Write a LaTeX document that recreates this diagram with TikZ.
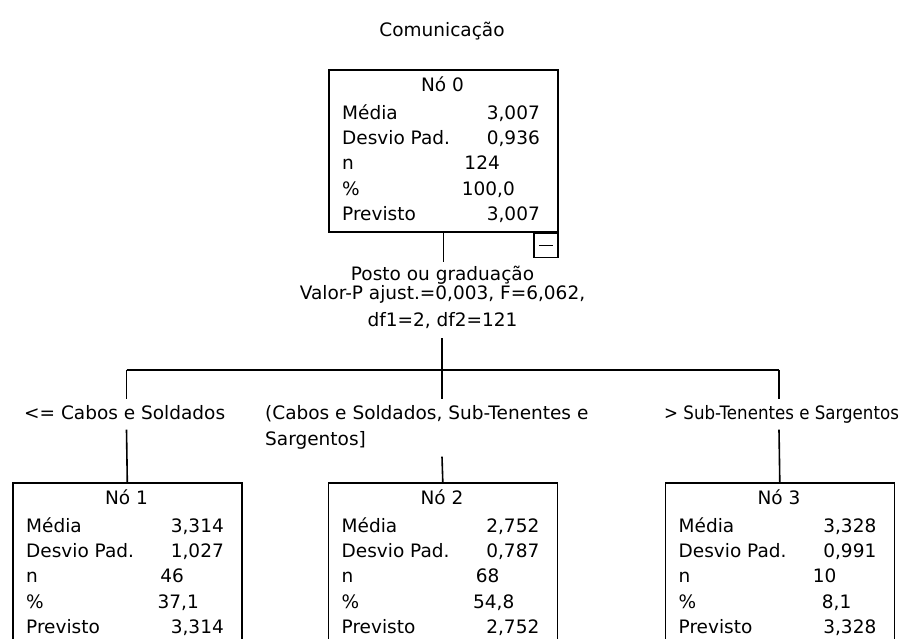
\documentclass[tikz,border=0pt]{standalone}
\usepackage{fontspec}
\setmainfont{DejaVu Sans}
\newcommand\spssnode[9]{%
  \node[box] (#1) at (#2,#3) {};
  \node[anchor=base] (#1-title) at ([shift={(114.5,22.7)}]#1.north west) {#4};
  \node[anchor=base west] (#1-l1) at ([shift={(14,50.2)}]#1.north west) {Média};
  \node[anchor=base east] (#1-v1) at ([shift={(212,50.2)}]#1.north west) {#5};
  \node[anchor=base west] (#1-l2) at ([shift={(14,75.7)}]#1.north west) {Desvio Pad.};
  \node[anchor=base east] (#1-v2) at ([shift={(212,75.7)}]#1.north west) {#6};
  \node[anchor=base west] (#1-l3) at ([shift={(14,100.7)}]#1.north west) {n};
  \node[anchor=base east] (#1-v3) at ([shift={(172,100.7)}]#1.north west) {#7};
  \node[anchor=base west] (#1-l4) at ([shift={(14,126.2)}]#1.north west) {\%};
  \node[anchor=base east] (#1-v4) at ([shift={(187,126.2)}]#1.north west) {#8};
  \node[anchor=base west] (#1-l5) at ([shift={(14,151.7)}]#1.north west) {Previsto};
  \node[anchor=base east] (#1-v5) at ([shift={(212,151.7)}]#1.north west) {#9};
}
\begin{document}
\begin{tikzpicture}[x=1pt,y=-1pt,
  every node/.style={font=\fontsize{18.5}{22}\selectfont, inner sep=0pt, text height=13.5pt, text depth=4pt},
  box/.style={draw, line width=1.6pt, minimum width=229pt, minimum height=162pt, anchor=north west},
  conn/.style={line width=1.6pt},
  lbl/.style={inner ysep=6.5pt, inner xsep=0pt}
]
\useasboundingbox (0,0) rectangle (914,639);
\clip (0,0) rectangle (914,639);

\node[anchor=base] (title) at (442,37) {Comunicação};

\spssnode{n0}{328}{69}{Nó 0}{3,007}{0,936}{124}{100,0}{3,007}
\node[draw, line width=1.6pt, minimum width=24pt, minimum height=24pt, text height=0pt, text depth=0pt, anchor=north east] (mb) at (n0.south east) {};
\draw[line width=1.6pt] ([xshift=-7pt]mb.center) -- ([xshift=7pt]mb.center);

\node[lbl, anchor=base, inner ysep=5pt] (s0a) at (442.5,280.5) {Posto ou graduação};
\node[lbl, anchor=base, inner ysep=5pt] (s0b) at (442.5,300) {Valor-P ajust.=0,003, F=6,062,};
\node[lbl, anchor=base, inner ysep=7pt] (s0c) at (442.5,327) {df1=2, df2=121};

\spssnode{n1}{12}{482}{Nó 1}{3,314}{1,027}{46}{37,1}{3,314}
\spssnode{n2}{327.5}{482}{Nó 2}{2,752}{0,787}{68}{54,8}{2,752}
\spssnode{n3}{664.5}{482}{Nó 3}{3,328}{0,991}{10}{8,1}{3,328}

\node[lbl, anchor=base west] (l1) at (24,419) {<= Cabos e Soldados};
\node[lbl, anchor=base west] (l2) at (265,419) {(Cabos e Soldados, Sub-Tenentes e};
\node[lbl, anchor=base west] (l2b) at (265,446) {Sargentos]};
\node[lbl, anchor=base west] (l3) at (664,419) {\scalebox{0.9}[1]{> Sub-Tenentes e Sargentos}};

\coordinate (j0) at (442,370);
\coordinate (c1) at (126.5,370);
\coordinate (c3) at (779,370);

\draw[conn] (n0.south) -- (n0.south |- s0a.north);
\draw[conn] (j0 |- s0c.south) -- (j0);
\draw[conn] (c1) -- (c3);
\draw[conn] (c1) -- (c1 |- l1.north);
\draw[conn] (c1 |- l1.south) -- (n1.north);
\draw[conn] (j0) -- (j0 |- l2.north);
\draw[conn] (j0 |- l2b.south) -- (n2.north);
\draw[conn] (c3) -- (c3 |- l3.north);
\draw[conn] (c3 |- l3.south) -- (n3.north);
\end{tikzpicture}
\end{document}
